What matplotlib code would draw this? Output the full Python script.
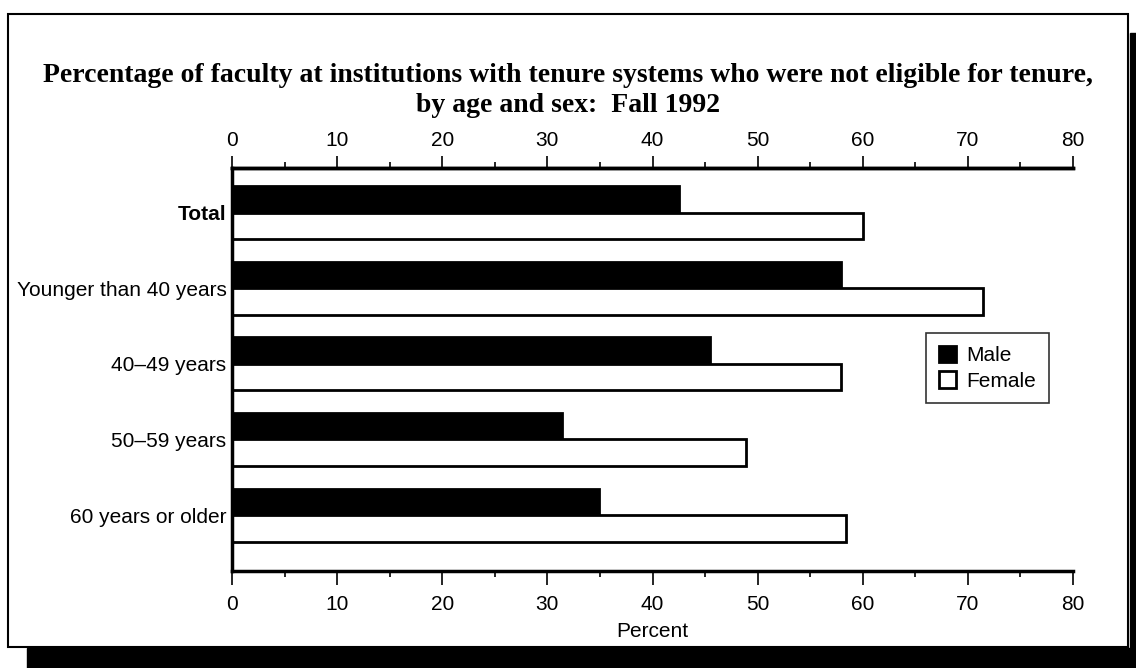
import numpy as np
import matplotlib.pyplot as plt
from matplotlib.patches import Rectangle
from matplotlib.ticker import MultipleLocator

categories = ["Total", "Younger than 40 years", "40\u201349 years",
              "50\u201359 years", "60 years or older"]
male = [42.5, 57.9, 45.5, 31.4, 34.9]
female = [60.0, 71.4, 57.9, 48.9, 58.4]
xticks = [0, 10, 20, 30, 40, 50, 60, 70, 80]

sans = ["Liberation Sans", "DejaVu Sans"]
serif = ["Liberation Serif", "DejaVu Serif"]

fig = plt.figure(figsize=(11.36, 6.68), dpi=100)
W, H = 1136, 668

def px(x0, y0, x1, y1):
    # pixel box -> figure fraction rect
    return (x0 / W, 1 - y1 / H, (x1 - x0) / W, (y1 - y0) / H)

# frame and drop shadow
x, y, w, h = px(1130, 33, 1136, 668)
fig.patches.append(Rectangle((x, y), w, h, transform=fig.transFigure, color="black", zorder=0))
x, y, w, h = px(27, 648, 1136, 668)
fig.patches.append(Rectangle((x, y), w, h, transform=fig.transFigure, color="black", zorder=0))
x, y, w, h = px(8, 14, 1128, 647)
fig.patches.append(Rectangle((x, y), w, h, transform=fig.transFigure, fill=False,
                             edgecolor="black", linewidth=1.5, zorder=1))

fig.text(0.5, 1 - 75 / H,
         "Percentage of faculty at institutions with tenure systems who were not eligible for tenure,",
         ha="center", va="center", fontsize=20, fontweight="bold", family=serif)
fig.text(0.5, 1 - 106 / H, "by age and sex:  Fall 1992",
         ha="center", va="center", fontsize=20, fontweight="bold", family=serif)

ax = fig.add_axes(px(232, 168, 1073, 571))
ypos = np.arange(len(categories))
bh = 0.35
ax.barh(ypos - bh / 2, male, height=bh, color="black", edgecolor="black",
        linewidth=2, label="Male")
ax.barh(ypos + bh / 2, female, height=bh, color="white", edgecolor="black",
        linewidth=2, label="Female")

ax.set_xlim(0, 80)
ax.set_ylim(4.74, -0.59)
ax.set_yticks(ypos)
ax.set_yticklabels(categories, family=sans, fontsize=15)
ax.get_yticklabels()[0].set_fontweight("bold")
ax.tick_params(axis="y", length=0, pad=4)

# bottom axis
ax.set_xticks(xticks)
ax.xaxis.set_minor_locator(MultipleLocator(5))
ax.tick_params(axis="x", which="both", direction="out", labelsize=15, width=1.2, pad=7)
ax.tick_params(axis="x", which="major", length=10)
ax.tick_params(axis="x", which="minor", length=4)
for lab in ax.get_xticklabels():
    lab.set_family(sans)
ax.set_xlabel("Percent", family=sans, fontsize=15, labelpad=6)

# top axis
top = ax.secondary_xaxis("top")
top.set_xticks(xticks)
top.xaxis.set_minor_locator(MultipleLocator(5))
top.tick_params(axis="x", which="both", direction="out", labelsize=15, width=1.2, pad=4)
top.tick_params(axis="x", which="major", length=9)
top.tick_params(axis="x", which="minor", length=4)
for lab in top.get_xticklabels():
    lab.set_family(sans)
top.spines["top"].set_linewidth(2.5)

for side in ["left", "top", "bottom"]:
    ax.spines[side].set_linewidth(2.5)
ax.spines["right"].set_visible(False)

leg = ax.legend(loc="upper left", bbox_to_anchor=((926 - 232) / 841, 1 - (333 - 168) / 403),
                prop={"family": sans, "size": 15}, frameon=True, fancybox=False,
                edgecolor="black", handlelength=0.85, handleheight=0.85,
                handletextpad=0.5, borderpad=0.6, labelspacing=0.3, borderaxespad=0)
leg.get_frame().set_linewidth(1.2)

fig.savefig("out.png", dpi=100)
